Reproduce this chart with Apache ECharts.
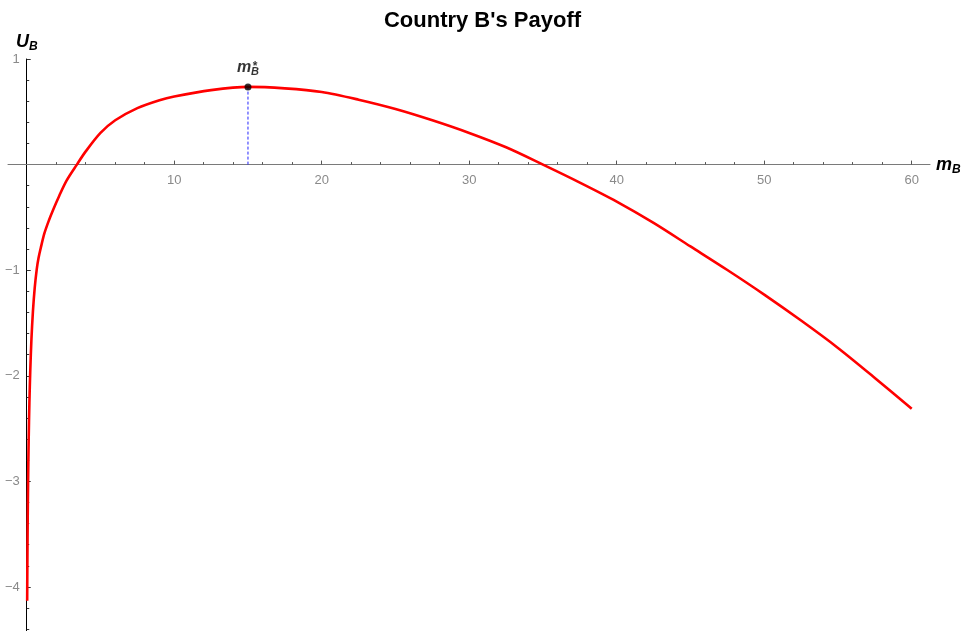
<!DOCTYPE html>
<html>
<head>
<meta charset="utf-8">
<script src="https://cdn.jsdelivr.net/npm/echarts@6/dist/echarts.min.js"></script>
<style>
  html, body { margin: 0; padding: 0; background: #fff; }
  #chart { width: 965px; height: 631px; }
</style>
</head>
<body>
<div id="chart"></div>
<script>
// Payoff curve of country B as a function of m_B
const mB = [0.03, 0.04, 0.06, 0.09, 0.13, 0.18, 0.24, 0.32, 0.42, 0.54, 0.68, 0.8, 0.95, 1.2, 1.5, 1.8, 2.2, 2.7, 3.4, 4, 5, 6, 7.5, 9, 10, 12.5, 15, 17.5, 20, 22.5, 25, 27.5, 30, 32.5, 35, 37.5, 40, 42.5, 45, 47.5, 50, 52.5, 55, 57.5, 60];
const uB = [-4.13, -3.85, -3.45, -3.02, -2.62, -2.26, -1.95, -1.65, -1.39, -1.17, -0.99, -0.885, -0.79, -0.65, -0.53, -0.425, -0.297, -0.152, 0.0, 0.125, 0.30, 0.42, 0.535, 0.61, 0.645, 0.705, 0.736, 0.722, 0.688, 0.615, 0.527, 0.42, 0.30, 0.164, 0.0, -0.17, -0.35, -0.552, -0.775, -0.998, -1.231, -1.477, -1.736, -2.02, -2.313];

// Optimum m_B* and its payoff
const peakM = 15;
const peakU = 0.736;

// Tick labels
const xMajor = [10, 20, 30, 40, 50, 60];
const xMinor = [2, 4, 6, 8, 12, 14, 16, 18, 22, 24, 26, 28, 32, 34, 36, 38, 42, 44, 46, 48, 52, 54, 56, 58];
const yMajor = [1, -1, -2, -3, -4];
const yMinor = [0.8, 0.6, 0.4, 0.2, -0.2, -0.4, -0.6, -0.8, -1.2, -1.4, -1.6, -1.8, -2.2, -2.4, -2.6, -2.8, -3.2, -3.4, -3.6, -3.8, -4.2, -4.4];

const X_MIN = -1.27, X_MAX = 61.24, Y_MIN = -4.417, Y_MAX = 1;
const GRID = { left: 8, top: 59, width: 922, height: 572 };
// Axes cross at the origin: shift them from the grid edges to x = 0 / y = 0
const xAxisShift = -GRID.height * (0 - Y_MIN) / (Y_MAX - Y_MIN);
const yAxisShift = -GRID.width * (0 - X_MIN) / (X_MAX - X_MIN);

const FONT = '"Liberation Sans", Arial, sans-serif';
const curve = mB.map((m, i) => [m, uB[i]]);

const chart = echarts.init(document.getElementById('chart'), null, { renderer: 'canvas' });

const baseX = {
  type: 'value', min: X_MIN, max: X_MAX, position: 'bottom', offset: xAxisShift,
  splitLine: { show: false }
};
const baseY = {
  type: 'value', min: Y_MIN, max: Y_MAX, position: 'left', offset: yAxisShift,
  splitLine: { show: false }
};
const subRich = (size, pad) => ({
  fontFamily: FONT, fontWeight: 'bold', fontStyle: 'italic', fontSize: size, color: '#000',
  verticalAlign: 'bottom', padding: [pad, 0, 0, 0]
});
const mainRich = size => ({
  fontFamily: FONT, fontWeight: 'bold', fontStyle: 'italic', fontSize: size, color: '#000'
});

chart.setOption({
  animation: false,
  backgroundColor: '#ffffff',
  title: {
    text: "Country B's Payoff", left: 'center', top: 5,
    textStyle: { fontFamily: FONT, fontWeight: 'bold', fontSize: 22, color: '#000' }
  },
  grid: Object.assign({ containLabel: false, outerBoundsMode: 'none' }, GRID),
  xAxis: [
    Object.assign({}, baseX, {
      name: '{m|m}{s|B}', nameLocation: 'end', nameGap: 6,
      nameTextStyle: { rich: { m: mainRich(18), s: subRich(12, 10) } },
      axisLine: { onZero: false, lineStyle: { color: '#7a7a7a', width: 1 } },
      axisTick: { show: true, inside: true, length: 4, customValues: xMajor, lineStyle: { color: '#555' } },
      axisLabel: { customValues: xMajor, margin: 9, fontFamily: FONT, fontSize: 13, color: '#8a8a8a' }
    }),
    Object.assign({}, baseX, {
      axisLine: { onZero: false, show: false },
      axisTick: { show: true, inside: true, length: 2.5, customValues: xMinor, lineStyle: { color: '#555' } },
      axisLabel: { show: false }
    })
  ],
  yAxis: [
    Object.assign({}, baseY, {
      name: '{u|U}{s|B}', nameLocation: 'end', nameGap: 4,
      nameTextStyle: { align: 'center', rich: { u: mainRich(18), s: subRich(12, 10) } },
      axisLine: { onZero: false, lineStyle: { color: '#000', width: 1 } },
      axisTick: { show: true, inside: true, length: 4, customValues: yMajor, lineStyle: { color: '#333' } },
      axisLabel: {
        customValues: yMajor, margin: 7, fontFamily: FONT, fontSize: 13, color: '#8a8a8a',
        formatter: v => String(v).replace('-', '\u2212')
      }
    }),
    Object.assign({}, baseY, {
      axisLine: { onZero: false, show: false },
      axisTick: { show: true, inside: true, length: 2.5, customValues: yMinor, lineStyle: { color: '#333' } },
      axisLabel: { show: false }
    })
  ],
  series: [
    {
      type: 'line', data: curve, showSymbol: false, smooth: 0.3,
      lineStyle: { color: '#ff0000', width: 2.6 }, z: 3
    },
    {
      type: 'line', data: [[peakM, 0], [peakM, peakU]], showSymbol: false,
      lineStyle: { color: '#2424ff', width: 1, type: [3, 2] }, z: 2
    },
    {
      type: 'scatter', data: [[peakM, peakU]], symbolSize: 7,
      itemStyle: { color: '#000' }, z: 5,
      label: {
        show: true, position: 'top', distance: 6,
        formatter: '{m|m}{s|B}',
        rich: { m: mainRich(16), s: subRich(11, 9) }
      }
    },
    {
      type: 'scatter', data: [[peakM, peakU]], symbolSize: 0, z: 6,
      label: {
        show: true, position: 'top', distance: 14, offset: [7, 0],
        formatter: '*',
        fontFamily: FONT, fontWeight: 'bold', fontSize: 12, color: '#000'
      }
    }
  ]
});
</script>
</body>
</html>
